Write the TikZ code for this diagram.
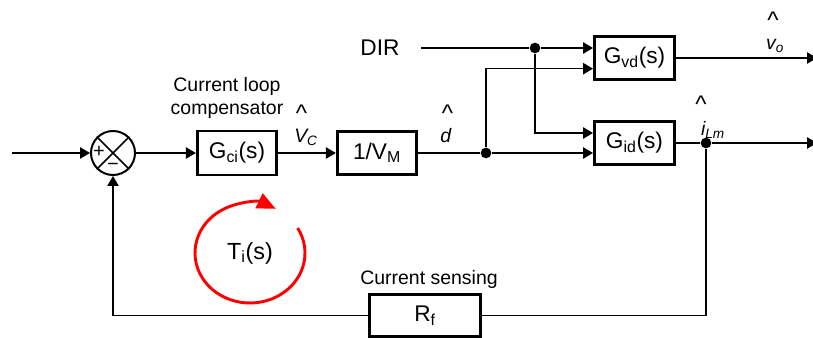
\documentclass[tikz,border=0pt]{standalone}
\usepackage{fontspec}
\setmainfont{Liberation Sans}
\usetikzlibrary{arrows.meta,positioning,calc}
\definecolor{loopred}{HTML}{FF0000}
\newcommand{\hatmark}{\raisebox{-0.45em}[0.38em][0pt]{\textasciicircum}}
\tikzset{
  blk/.style={draw, line width=2.2pt, inner sep=0pt, font=\fontsize{17}{20}\selectfont},
  lbl/.style={inner sep=0pt, font=\fontsize{14.6}{17.25}\selectfont},
  hat/.style={inner sep=0pt, font=\fontsize{18}{20}\selectfont},
  sig/.style={line width=1.1pt},
  arr/.style={sig, -{Triangle[length=7.5pt,width=8.5pt]}},
  jdot/.style={circle, fill, inner sep=0pt, minimum size=8pt},
}
\begin{document}
\begin{tikzpicture}[x=0.75pt,y=-0.75pt]
\useasboundingbox (0,0) rectangle (813,338);
\node[draw, circle, line width=1.5pt, minimum size=33pt, inner sep=0pt] (sum) at (113,153) {};
\draw[sig] (sum.north west) -- (sum.south east) (sum.north east) -- (sum.south west);
\node[lbl] (plus) at (99,152) {+};
\node[lbl] (minus) at (113,167) {−};
\node[blk, minimum width=59.5pt, minimum height=33pt] (gci) at (237,153) {G\textsubscript{ci}(s)};
\node[blk, minimum width=59.5pt, minimum height=32pt] (vm) at (377,153) {1/V\textsubscript{M}};
\node[blk, minimum width=60pt, minimum height=32pt] (gvd) at (634.5,58) {G\textsubscript{vd}(s)};
\node[blk, minimum width=60pt, minimum height=32pt] (gid) at (634.5,143) {G\textsubscript{id}(s)};
\node[blk, minimum width=83pt, minimum height=31pt] (rf) at (425,315.5) {R\textsubscript{f}};
\node[jdot] (j1) at (486,153) {};
\node[jdot] (j2) at (535,48) {};
\node[jdot] (j3) at (706,143) {};
\coordinate (in) at (12,153);
\coordinate (dirend) at (421,48);
\coordinate (vdin1) at (j2 -| gvd.west);
\coordinate (vdin2) at ([yshift=-8pt]gvd.west);
\coordinate (idin1) at ([yshift=7.5pt]gid.west);
\coordinate (idin2) at (j1 -| gid.west);
\coordinate (vout) at (817,58);
\coordinate (iout) at (817,143);
\draw[arr] (in) -- (sum);
\draw[arr] (sum) -- (gci);
\draw[arr] (gci) -- (vm);
\draw[sig] (vm) -- (j1);
\draw[arr] (j1) -- (idin2);
\draw[arr] (j1) |- (vdin2);
\draw[sig] (dirend) -- (j2);
\draw[arr] (j2) -- (vdin1);
\draw[arr] (j2) |- (idin1);
\draw[arr] (gvd) -- (vout);
\draw[sig] (gid) -- (j3);
\draw[arr] (j3) -- (iout);
\draw[sig] (j3) |- (rf);
\draw[arr] (rf) -| (sum);
\node[font=\fontsize{17}{20}\selectfont, inner sep=0pt] (dir) at (380,48) {DIR};
\node[lbl, align=center] (cmplbl) at (227,97.5) {Current loop\\compensator};
\node[lbl] (senslbl) at (429,279) {Current sensing};
\node[hat] (hatvc) at (301.5,106) {\hatmark};
\node[lbl] (vc) at (306,137) {\textit{V\textsubscript{C}}};
\node[hat] (hatd) at (447.5,106) {\hatmark};
\node[lbl] (dlbl) at (446,136) {\textit{d}};
\node[hat] (hatvo) at (773,13) {\hatmark};
\node[lbl] (vo) at (775,46) {\textit{v\textsubscript{o}}};
\node[hat] (hatil) at (701,97) {\hatmark};
\node[lbl] (il) at (713,130) {\textit{i\textsubscript{Lm}}};
\node[font=\fontsize{17.5}{20}\selectfont, inner sep=0pt] (tlbl) at (250,253) {T\textsubscript{i}(s)};
\draw[loopred, line width=2.2pt, -{Triangle[length=14pt,width=12pt]}] (250,253) ++(-30:55 and 50) arc[start angle=-30, end angle=298, x radius=55, y radius=50];
\end{tikzpicture}
\end{document}
